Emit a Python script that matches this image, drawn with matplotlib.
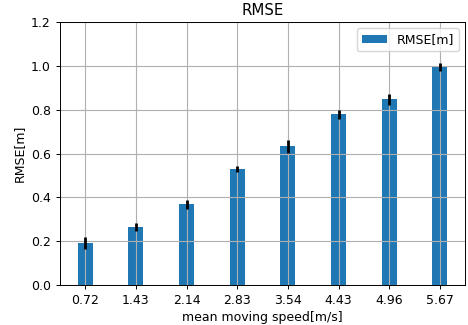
import numpy as np
import matplotlib
matplotlib.use("Agg")
import matplotlib.pyplot as plt

speeds = ["0.72", "1.43", "2.14", "2.83", "3.54", "4.43", "4.96", "5.67"]
rmse = [0.193, 0.265, 0.368, 0.528, 0.633, 0.779, 0.847, 0.995]
rmse_err = [0.027, 0.018, 0.02, 0.014, 0.03, 0.022, 0.025, 0.02]

plt.rcParams.update({"font.size": 9, "axes.linewidth": 0.7,
                     "xtick.major.width": 0.7, "ytick.major.width": 0.7,
                     "xtick.major.size": 3, "ytick.major.size": 3})

fig, ax = plt.subplots(figsize=(4.68, 3.25), dpi=100)
x = np.arange(len(speeds))
ax.bar(x, rmse, width=0.3, color="#1f77b4", label="RMSE[m]")
ax.errorbar(x, rmse, yerr=rmse_err, fmt="none", ecolor="black", elinewidth=2)
ax.set_xticks(x)
ax.set_xticklabels(speeds)
ax.set_xlim(-0.5, len(speeds) - 0.5)
ax.set_ylim(0, 1.2)
ax.set_title("RMSE", pad=5)
ax.set_xlabel("mean moving speed[m/s]", labelpad=3)
ax.set_ylabel("RMSE[m]")
ax.grid(True)
ax.legend(loc="upper right")
fig.subplots_adjust(left=0.128, right=0.994, top=0.932, bottom=0.123)
fig.savefig("out.png", dpi=100)
